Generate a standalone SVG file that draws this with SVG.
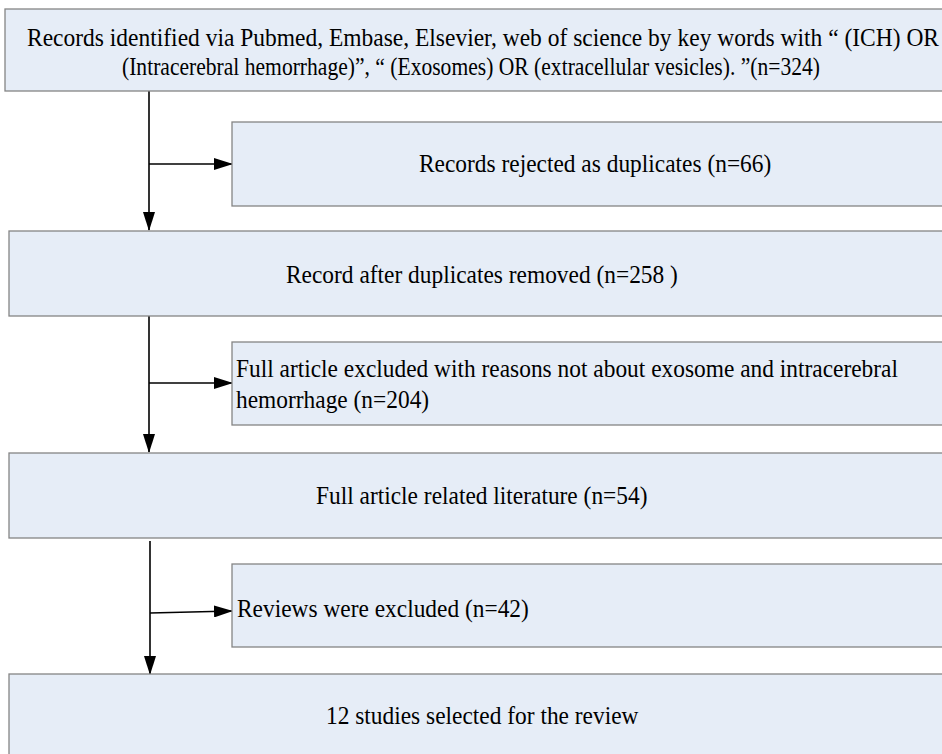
<svg xmlns="http://www.w3.org/2000/svg" width="942" height="754" viewBox="0 0 942 754">
<defs>
<style>
.box{fill:#E6EDF7;stroke:#858585;stroke-width:1.3}
.t{font-family:"Liberation Serif","Times New Roman",serif;font-size:23.4px;fill:#000}
.c{fill:none;stroke:#000;stroke-width:1.6}
</style>
<marker id="ah" markerWidth="19" markerHeight="12" refX="18" refY="6" orient="auto" markerUnits="userSpaceOnUse">
<path d="M0,0 L19,6 L0,12 Z" fill="#000"/>
</marker>
</defs>
<rect width="942" height="754" fill="#fff"/>
<g id="connectors">
<line class="c" x1="149" y1="91" x2="149" y2="230" marker-end="url(#ah)"/>
<line class="c" x1="149" y1="164" x2="232" y2="164" marker-end="url(#ah)"/>
<line class="c" x1="149" y1="316" x2="149" y2="452" marker-end="url(#ah)"/>
<line class="c" x1="149" y1="383" x2="232" y2="383" marker-end="url(#ah)"/>
<line class="c" x1="150" y1="541" x2="150" y2="674" marker-end="url(#ah)"/>
<line class="c" x1="150" y1="613" x2="232" y2="611" marker-end="url(#ah)"/>
</g>
<g id="n1">
<rect class="box" x="5" y="9" width="950" height="82"/>
<text class="t" transform="translate(27,46) scale(1,1.09)" textLength="912" lengthAdjust="spacingAndGlyphs">Records identified via Pubmed, Embase, Elsevier, web of science by key words with “ (ICH) OR</text>
<text class="t" transform="translate(122,75) scale(1,1.09)" textLength="698" lengthAdjust="spacingAndGlyphs">(Intracerebral hemorrhage)”, “ (Exosomes) OR (extracellular vesicles). ”(n=324)</text>
</g>
<g id="n2">
<rect class="box" x="232" y="122" width="720" height="84"/>
<text class="t" transform="translate(419,172) scale(1,1.09)">Records rejected as duplicates (n=66)</text>
</g>
<g id="n3">
<rect class="box" x="9" y="231" width="945" height="85"/>
<text class="t" transform="translate(286,283) scale(1,1.09)">Record after duplicates removed (n=258 )</text>
</g>
<g id="n4">
<rect class="box" x="232" y="342" width="720" height="83"/>
<text class="t" transform="translate(236,377) scale(1,1.09)">Full article excluded with reasons not about exosome and intracerebral</text>
<text class="t" transform="translate(236,408) scale(1,1.09)">hemorrhage (n=204)</text>
</g>
<g id="n5">
<rect class="box" x="9" y="453" width="945" height="85"/>
<text class="t" transform="translate(316,504) scale(1,1.09)">Full article related literature (n=54)</text>
</g>
<g id="n6">
<rect class="box" x="232" y="564" width="720" height="83"/>
<text class="t" transform="translate(237,617) scale(1,1.09)">Reviews were excluded (n=42)</text>
</g>
<g id="n7">
<rect class="box" x="9" y="674" width="945" height="90"/>
<text class="t" transform="translate(326,724) scale(1,1.09)">12 studies selected for the review</text>
</g>
</svg>
